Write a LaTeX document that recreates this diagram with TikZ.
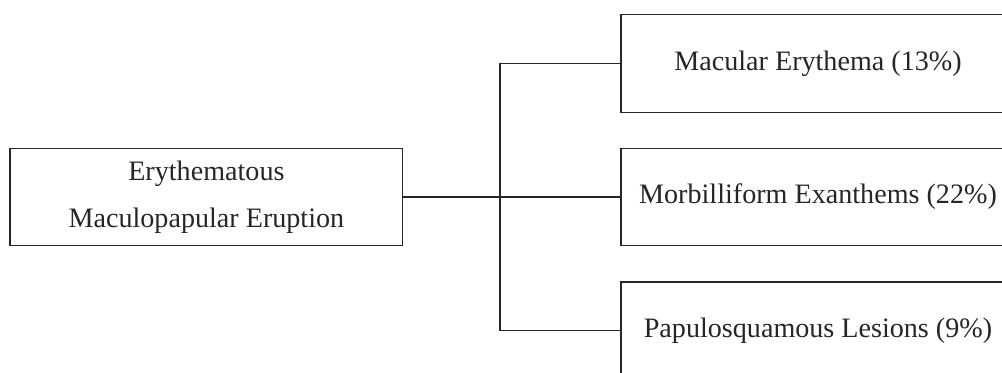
\documentclass[tikz,border=0pt]{standalone}
\usepackage{fontspec}
\setmainfont{Liberation Serif}
\usepackage{tikz}
\tikzset{
  erbox/.style={draw=black!85, line width=0.75pt, fill=white, minimum width=7.85cm,
    minimum height=1.95cm, align=center, inner sep=0pt,
    font=\fontsize{16}{26.7}\selectfont, text=black!85},
  erlink/.style={draw=black!85, line width=0.75pt},
}

\begin{document}
\begin{tikzpicture}
\useasboundingbox (0,0) rectangle (20.04,7.46);
\clip (0,0) rectangle (20.04,7.46);
\node[erbox] (erupt) at (4.128,3.520) {Erythematous\\Maculopapular Eruption};
\node[erbox, minimum width=7.88cm] (macular) at (16.360,6.190) {Macular Erythema (13\%)};
\node[erbox, minimum width=7.88cm] (morbil) at (16.360,3.520) {Morbilliform Exanthems (22\%)};
\node[erbox, minimum width=7.88cm] (papulo) at (16.360,0.846) {Papulosquamous Lesions (9\%)};
\coordinate (fork) at (10.000,3.520);
\draw[erlink] (erupt.east) -- (morbil.west);
\draw[erlink] (macular.west) -- (macular.west -| fork) -- (papulo.west -| fork) -- (papulo.west);
\end{tikzpicture}
\end{document}
